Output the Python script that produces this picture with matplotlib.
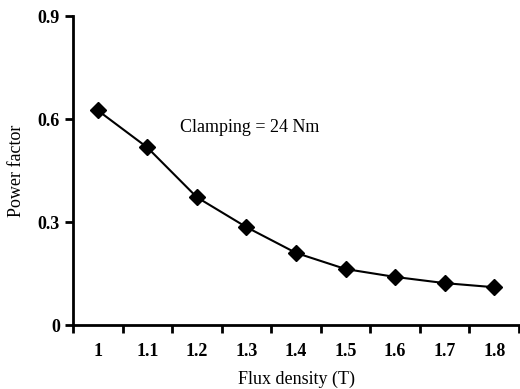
import matplotlib
matplotlib.use('Agg')
import matplotlib.pyplot as plt
import numpy as np

# data
flux = ['1', '1.1', '1.2', '1.3', '1.4', '1.5', '1.6', '1.7', '1.8']
power_factor = [0.625, 0.517, 0.372, 0.285, 0.21, 0.163, 0.14, 0.122, 0.11]

plt.rcParams['font.family'] = ['Liberation Serif', 'DejaVu Serif']

fig = plt.figure(figsize=(5.2, 3.89), dpi=100)
ax = fig.add_axes([73/520, 1 - 325/389, 446/520, 309/389])

x = np.arange(len(flux))
ax.plot(x, power_factor, color='black', linewidth=1.5, marker='D',
        markersize=8, markerfacecolor='black', markeredgecolor='black')

ax.set_xlim(-0.5, len(flux) - 0.5)
ax.set_ylim(0, 0.9)

# category axis: tick marks between categories, labels at centres
ax.set_xticks(x)
ax.set_xticklabels(flux)
ax.set_xticks(np.arange(-0.5, len(flux)), minor=True)
ax.tick_params(axis='x', which='major', length=0, pad=13, labelsize=13)
ax.tick_params(axis='x', which='minor', length=6, width=2, direction='out')

ax.set_yticks([0, 0.3, 0.6, 0.9])
ax.set_yticklabels(['0', '0.3', '0.6', '0.9'])
ax.tick_params(axis='y', length=6, width=2, direction='out', labelsize=13)

for lbl in ax.get_xticklabels() + ax.get_yticklabels():
    lbl.set_fontweight('bold')

ax.spines['top'].set_visible(False)
ax.spines['right'].set_visible(False)
ax.spines['left'].set_linewidth(2)
ax.spines['bottom'].set_linewidth(2)

ax.set_xlabel('Flux density (T)', fontsize=13, labelpad=8)
ax.set_ylabel('Power factor', fontsize=13, labelpad=9)

ax.text(1.66, 0.576, 'Clamping = 24 Nm', fontsize=13, va='center', ha='left')

plt.savefig('out.png', dpi=100)
plt.close('all')
